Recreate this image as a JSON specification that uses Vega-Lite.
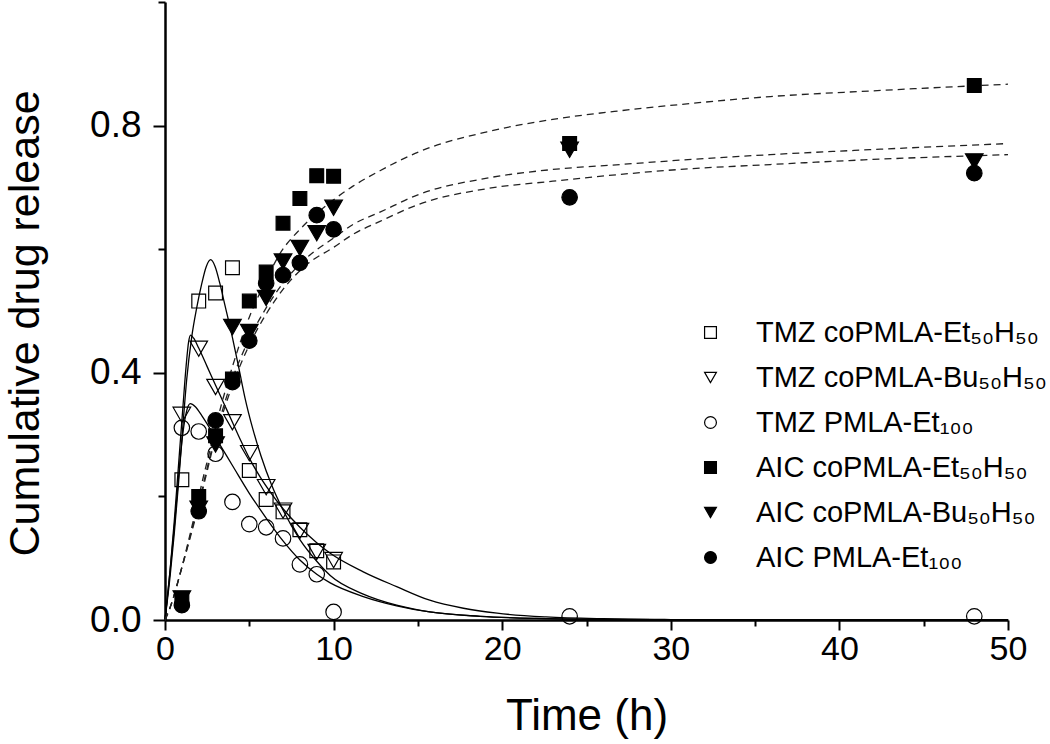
{
  "$schema": "https://vega.github.io/schema/vega-lite/v6.json",
  "width": 843,
  "height": 618,
  "autosize": {"type": "none"},
  "padding": {"left": 165, "top": 2, "right": 42, "bottom": 124},
  "background": "white",
  "config": {
    "view": {"stroke": null},
    "font": "Liberation Sans",
    "axis": {
      "labelFont": "Liberation Sans",
      "titleFont": "Liberation Sans",
      "labelColor": "black",
      "titleColor": "black",
      "domainColor": "black",
      "tickColor": "black",
      "titleFontWeight": "normal",
      "grid": false,
      "domainWidth": 2.5,
      "tickWidth": 2
    },
    "legend": {
      "labelFont": "Liberation Sans",
      "labelFontSize": 29,
      "labelColor": "black",
      "labelLimit": 600,
      "labelOffset": 31,
      "symbolSize": 140,
      "symbolStrokeColor": "black",
      "symbolStrokeWidth": 1.2,
      "rowPadding": 15
    }
  },
  "datasets": {
    "points": [
      {"t": 1, "v": 0.227, "s": "TMZ coPMLA-Et₅₀H₅₀"}, {"t": 2, "v": 0.516, "s": "TMZ coPMLA-Et₅₀H₅₀"}, {"t": 3, "v": 0.529, "s": "TMZ coPMLA-Et₅₀H₅₀"}, {"t": 4, "v": 0.570, "s": "TMZ coPMLA-Et₅₀H₅₀"}, {"t": 5, "v": 0.242, "s": "TMZ coPMLA-Et₅₀H₅₀"}, {"t": 6, "v": 0.195, "s": "TMZ coPMLA-Et₅₀H₅₀"}, {"t": 7, "v": 0.175, "s": "TMZ coPMLA-Et₅₀H₅₀"}, {"t": 8, "v": 0.146, "s": "TMZ coPMLA-Et₅₀H₅₀"}, {"t": 9, "v": 0.112, "s": "TMZ coPMLA-Et₅₀H₅₀"}, {"t": 10, "v": 0.094, "s": "TMZ coPMLA-Et₅₀H₅₀"},
      {"t": 1, "v": 0.332, "s": "TMZ coPMLA-Bu₅₀H₅₀"}, {"t": 2, "v": 0.439, "s": "TMZ coPMLA-Bu₅₀H₅₀"}, {"t": 3, "v": 0.377, "s": "TMZ coPMLA-Bu₅₀H₅₀"}, {"t": 4, "v": 0.320, "s": "TMZ coPMLA-Bu₅₀H₅₀"}, {"t": 5, "v": 0.270, "s": "TMZ coPMLA-Bu₅₀H₅₀"}, {"t": 6, "v": 0.215, "s": "TMZ coPMLA-Bu₅₀H₅₀"}, {"t": 7, "v": 0.177, "s": "TMZ coPMLA-Bu₅₀H₅₀"}, {"t": 8, "v": 0.144, "s": "TMZ coPMLA-Bu₅₀H₅₀"}, {"t": 9, "v": 0.110, "s": "TMZ coPMLA-Bu₅₀H₅₀"}, {"t": 10, "v": 0.097, "s": "TMZ coPMLA-Bu₅₀H₅₀"},
      {"t": 1, "v": 0.311, "s": "TMZ PMLA-Et₁₀₀"}, {"t": 2, "v": 0.305, "s": "TMZ PMLA-Et₁₀₀"}, {"t": 3, "v": 0.269, "s": "TMZ PMLA-Et₁₀₀"}, {"t": 4, "v": 0.191, "s": "TMZ PMLA-Et₁₀₀"}, {"t": 5, "v": 0.155, "s": "TMZ PMLA-Et₁₀₀"}, {"t": 6, "v": 0.150, "s": "TMZ PMLA-Et₁₀₀"}, {"t": 7, "v": 0.132, "s": "TMZ PMLA-Et₁₀₀"}, {"t": 8, "v": 0.090, "s": "TMZ PMLA-Et₁₀₀"}, {"t": 9, "v": 0.074, "s": "TMZ PMLA-Et₁₀₀"}, {"t": 10, "v": 0.013, "s": "TMZ PMLA-Et₁₀₀"}, {"t": 24, "v": 0.006, "s": "TMZ PMLA-Et₁₀₀"}, {"t": 48, "v": 0.006, "s": "TMZ PMLA-Et₁₀₀"},
      {"t": 1, "v": 0.033, "s": "AIC  coPMLA-Et₅₀H₅₀"}, {"t": 2, "v": 0.200, "s": "AIC  coPMLA-Et₅₀H₅₀"}, {"t": 3, "v": 0.298, "s": "AIC  coPMLA-Et₅₀H₅₀"}, {"t": 4, "v": 0.390, "s": "AIC  coPMLA-Et₅₀H₅₀"}, {"t": 5, "v": 0.516, "s": "AIC  coPMLA-Et₅₀H₅₀"}, {"t": 6, "v": 0.563, "s": "AIC  coPMLA-Et₅₀H₅₀"}, {"t": 7, "v": 0.642, "s": "AIC  coPMLA-Et₅₀H₅₀"}, {"t": 8, "v": 0.682, "s": "AIC  coPMLA-Et₅₀H₅₀"}, {"t": 9, "v": 0.719, "s": "AIC  coPMLA-Et₅₀H₅₀"}, {"t": 10, "v": 0.718, "s": "AIC  coPMLA-Et₅₀H₅₀"}, {"t": 24, "v": 0.771, "s": "AIC  coPMLA-Et₅₀H₅₀"}, {"t": 48, "v": 0.865, "s": "AIC  coPMLA-Et₅₀H₅₀"},
      {"t": 1, "v": 0.035, "s": "AIC  coPMLA-Bu₅₀H₅₀"}, {"t": 2, "v": 0.180, "s": "AIC  coPMLA-Bu₅₀H₅₀"}, {"t": 3, "v": 0.284, "s": "AIC  coPMLA-Bu₅₀H₅₀"}, {"t": 4, "v": 0.474, "s": "AIC  coPMLA-Bu₅₀H₅₀"}, {"t": 5, "v": 0.466, "s": "AIC  coPMLA-Bu₅₀H₅₀"}, {"t": 6, "v": 0.521, "s": "AIC  coPMLA-Bu₅₀H₅₀"}, {"t": 7, "v": 0.580, "s": "AIC  coPMLA-Bu₅₀H₅₀"}, {"t": 8, "v": 0.602, "s": "AIC  coPMLA-Bu₅₀H₅₀"}, {"t": 9, "v": 0.626, "s": "AIC  coPMLA-Bu₅₀H₅₀"}, {"t": 10, "v": 0.667, "s": "AIC  coPMLA-Bu₅₀H₅₀"}, {"t": 24, "v": 0.761, "s": "AIC  coPMLA-Bu₅₀H₅₀"}, {"t": 48, "v": 0.742, "s": "AIC  coPMLA-Bu₅₀H₅₀"},
      {"t": 1, "v": 0.024, "s": "AIC PMLA-Et₁₀₀"}, {"t": 2, "v": 0.176, "s": "AIC PMLA-Et₁₀₀"}, {"t": 3, "v": 0.323, "s": "AIC PMLA-Et₁₀₀"}, {"t": 4, "v": 0.385, "s": "AIC PMLA-Et₁₀₀"}, {"t": 5, "v": 0.452, "s": "AIC PMLA-Et₁₀₀"}, {"t": 6, "v": 0.545, "s": "AIC PMLA-Et₁₀₀"}, {"t": 7, "v": 0.558, "s": "AIC PMLA-Et₁₀₀"}, {"t": 8, "v": 0.578, "s": "AIC PMLA-Et₁₀₀"}, {"t": 9, "v": 0.655, "s": "AIC PMLA-Et₁₀₀"}, {"t": 10, "v": 0.632, "s": "AIC PMLA-Et₁₀₀"}, {"t": 24, "v": 0.684, "s": "AIC PMLA-Et₁₀₀"}, {"t": 48, "v": 0.723, "s": "AIC PMLA-Et₁₀₀"}
    ],
    "curves": [
      {"t": 0, "v": 0, "c": "A"}, {"t": 0.3, "v": 0.07, "c": "A"}, {"t": 0.55, "v": 0.14, "c": "A"}, {"t": 0.8, "v": 0.22, "c": "A"}, {"t": 1.05, "v": 0.31, "c": "A"}, {"t": 1.29, "v": 0.39, "c": "A"}, {"t": 1.58, "v": 0.457, "c": "A"}, {"t": 1.88, "v": 0.505, "c": "A"}, {"t": 2.17, "v": 0.543, "c": "A"}, {"t": 2.45, "v": 0.572, "c": "A"}, {"t": 2.71, "v": 0.583, "c": "A"}, {"t": 2.97, "v": 0.572, "c": "A"}, {"t": 3.25, "v": 0.545, "c": "A"}, {"t": 3.55, "v": 0.51, "c": "A"}, {"t": 4.0, "v": 0.457, "c": "A"}, {"t": 4.4, "v": 0.405, "c": "A"}, {"t": 4.74, "v": 0.36, "c": "A"}, {"t": 5.2, "v": 0.31, "c": "A"}, {"t": 5.7, "v": 0.265, "c": "A"}, {"t": 6.3, "v": 0.22, "c": "A"}, {"t": 7, "v": 0.178, "c": "A"}, {"t": 8, "v": 0.13, "c": "A"}, {"t": 9, "v": 0.095, "c": "A"}, {"t": 9.8, "v": 0.072, "c": "A"}, {"t": 11.76, "v": 0.042, "c": "A"}, {"t": 13.74, "v": 0.024, "c": "A"}, {"t": 15.7, "v": 0.013, "c": "A"}, {"t": 18.7, "v": 0.006, "c": "A"}, {"t": 22, "v": 0.0025, "c": "A"}, {"t": 26, "v": 0.001, "c": "A"}, {"t": 32, "v": 0.0002, "c": "A"}, {"t": 50, "v": 0, "c": "A"},
      {"t": 0, "v": 0, "c": "B"}, {"t": 0.3, "v": 0.08, "c": "B"}, {"t": 0.55, "v": 0.16, "c": "B"}, {"t": 0.8, "v": 0.25, "c": "B"}, {"t": 1.05, "v": 0.34, "c": "B"}, {"t": 1.25, "v": 0.41, "c": "B"}, {"t": 1.4, "v": 0.45, "c": "B"}, {"t": 1.52, "v": 0.461, "c": "B"}, {"t": 1.7, "v": 0.456, "c": "B"}, {"t": 2.0, "v": 0.44, "c": "B"}, {"t": 2.5, "v": 0.41, "c": "B"}, {"t": 3, "v": 0.38, "c": "B"}, {"t": 3.5, "v": 0.35, "c": "B"}, {"t": 4, "v": 0.32, "c": "B"}, {"t": 4.5, "v": 0.29, "c": "B"}, {"t": 5, "v": 0.262, "c": "B"}, {"t": 5.63, "v": 0.232, "c": "B"}, {"t": 6.3, "v": 0.205, "c": "B"}, {"t": 7, "v": 0.18, "c": "B"}, {"t": 8, "v": 0.15, "c": "B"}, {"t": 9, "v": 0.125, "c": "B"}, {"t": 9.8, "v": 0.108, "c": "B"}, {"t": 11.76, "v": 0.078, "c": "B"}, {"t": 13.74, "v": 0.054, "c": "B"}, {"t": 15.7, "v": 0.032, "c": "B"}, {"t": 17.7, "v": 0.019, "c": "B"}, {"t": 19.7, "v": 0.011, "c": "B"}, {"t": 22.6, "v": 0.005, "c": "B"}, {"t": 26, "v": 0.002, "c": "B"}, {"t": 30, "v": 0.0007, "c": "B"}, {"t": 36, "v": 0.0001, "c": "B"}, {"t": 50, "v": 0, "c": "B"},
      {"t": 0, "v": 0, "c": "C"}, {"t": 0.3, "v": 0.08, "c": "C"}, {"t": 0.55, "v": 0.15, "c": "C"}, {"t": 0.8, "v": 0.23, "c": "C"}, {"t": 1.05, "v": 0.30, "c": "C"}, {"t": 1.3, "v": 0.34, "c": "C"}, {"t": 1.5, "v": 0.35, "c": "C"}, {"t": 1.8, "v": 0.345, "c": "C"}, {"t": 2.2, "v": 0.33, "c": "C"}, {"t": 3, "v": 0.295, "c": "C"}, {"t": 4, "v": 0.25, "c": "C"}, {"t": 5, "v": 0.205, "c": "C"}, {"t": 6, "v": 0.165, "c": "C"}, {"t": 7, "v": 0.128, "c": "C"}, {"t": 8, "v": 0.097, "c": "C"}, {"t": 9, "v": 0.074, "c": "C"}, {"t": 9.8, "v": 0.06, "c": "C"}, {"t": 11.76, "v": 0.038, "c": "C"}, {"t": 13.74, "v": 0.023, "c": "C"}, {"t": 15.7, "v": 0.013, "c": "C"}, {"t": 18.7, "v": 0.006, "c": "C"}, {"t": 22, "v": 0.0025, "c": "C"}, {"t": 26, "v": 0.001, "c": "C"}, {"t": 32, "v": 0.0002, "c": "C"}, {"t": 50, "v": 0, "c": "C"},
      {"t": 0, "v": 0, "c": "D"}, {"t": 0.3, "v": 0.02, "c": "D"}, {"t": 0.9, "v": 0.075, "c": "D"}, {"t": 1.68, "v": 0.161, "c": "D"}, {"t": 2.27, "v": 0.231, "c": "D"}, {"t": 2.67, "v": 0.275, "c": "D"}, {"t": 3.36, "v": 0.35, "c": "D"}, {"t": 4, "v": 0.41, "c": "D"}, {"t": 5, "v": 0.49, "c": "D"}, {"t": 6, "v": 0.55, "c": "D"}, {"t": 6.8, "v": 0.592, "c": "D"}, {"t": 8, "v": 0.632, "c": "D"}, {"t": 9, "v": 0.658, "c": "D"}, {"t": 10, "v": 0.68, "c": "D"}, {"t": 11.15, "v": 0.702, "c": "D"}, {"t": 12.75, "v": 0.727, "c": "D"}, {"t": 15.1, "v": 0.758, "c": "D"}, {"t": 19.1, "v": 0.79, "c": "D"}, {"t": 23, "v": 0.81, "c": "D"}, {"t": 27, "v": 0.824, "c": "D"}, {"t": 30.5, "v": 0.834, "c": "D"}, {"t": 35.9, "v": 0.847, "c": "D"}, {"t": 41.8, "v": 0.856, "c": "D"}, {"t": 47.7, "v": 0.864, "c": "D"}, {"t": 50, "v": 0.867, "c": "D"},
      {"t": 0, "v": 0, "c": "E"}, {"t": 0.3, "v": 0.02, "c": "E"}, {"t": 1, "v": 0.085, "c": "E"}, {"t": 2, "v": 0.19, "c": "E"}, {"t": 3, "v": 0.30, "c": "E"}, {"t": 4, "v": 0.39, "c": "E"}, {"t": 5, "v": 0.455, "c": "E"}, {"t": 6, "v": 0.505, "c": "E"}, {"t": 7, "v": 0.545, "c": "E"}, {"t": 8.4, "v": 0.586, "c": "E"}, {"t": 10, "v": 0.618, "c": "E"}, {"t": 11.15, "v": 0.64, "c": "E"}, {"t": 12.75, "v": 0.66, "c": "E"}, {"t": 15.1, "v": 0.689, "c": "E"}, {"t": 19.1, "v": 0.715, "c": "E"}, {"t": 23, "v": 0.729, "c": "E"}, {"t": 27, "v": 0.737, "c": "E"}, {"t": 30.5, "v": 0.744, "c": "E"}, {"t": 35.9, "v": 0.753, "c": "E"}, {"t": 41.8, "v": 0.761, "c": "E"}, {"t": 50, "v": 0.771, "c": "E"},
      {"t": 0, "v": 0, "c": "F"}, {"t": 0.3, "v": 0.02, "c": "F"}, {"t": 1, "v": 0.085, "c": "F"}, {"t": 2, "v": 0.185, "c": "F"}, {"t": 3, "v": 0.295, "c": "F"}, {"t": 4, "v": 0.38, "c": "F"}, {"t": 5, "v": 0.445, "c": "F"}, {"t": 6, "v": 0.495, "c": "F"}, {"t": 7, "v": 0.535, "c": "F"}, {"t": 8.4, "v": 0.575, "c": "F"}, {"t": 10, "v": 0.603, "c": "F"}, {"t": 11.15, "v": 0.624, "c": "F"}, {"t": 12.75, "v": 0.645, "c": "F"}, {"t": 15.1, "v": 0.673, "c": "F"}, {"t": 19.1, "v": 0.698, "c": "F"}, {"t": 23, "v": 0.71, "c": "F"}, {"t": 27, "v": 0.721, "c": "F"}, {"t": 30.5, "v": 0.729, "c": "F"}, {"t": 35.9, "v": 0.737, "c": "F"}, {"t": 41.8, "v": 0.745, "c": "F"}, {"t": 50, "v": 0.753, "c": "F"}
    ]
  },
  "layer": [
    {
      "data": {"name": "curves"},
      "transform": [{"filter": {"field": "c", "oneOf": ["A", "B", "C"]}}],
      "mark": {"type": "line", "interpolate": "monotone", "stroke": "black", "strokeWidth": 1.3},
      "encoding": {
        "x": {"field": "t", "type": "quantitative", "scale": {"domain": [0, 50], "nice": false},
              "axis": {"orient": "bottom", "values": [5, 15, 25, 35, 45], "labels": false, "domain": false, "title": null, "tickSize": 6}},
        "y": {"field": "v", "type": "quantitative", "scale": {"domain": [0, 1], "nice": false},
              "axis": {"orient": "left", "values": [0.2, 0.6, 1.0], "labels": false, "domain": false, "title": null, "tickSize": 7}},
        "detail": {"field": "c"}
      }
    },
    {
      "data": {"name": "curves"},
      "transform": [{"filter": {"field": "c", "oneOf": ["D", "E", "F"]}}],
      "mark": {"type": "line", "interpolate": "monotone", "stroke": "#222222", "strokeWidth": 1.3, "strokeDash": [7, 5]},
      "encoding": {
        "x": {"field": "t", "type": "quantitative", "axis": null},
        "y": {"field": "v", "type": "quantitative", "axis": null},
        "detail": {"field": "c"}
      }
    },
    {
      "data": {"name": "points"},
      "transform": [{"filter": {"field": "s", "oneOf": ["TMZ coPMLA-Et₅₀H₅₀", "AIC  coPMLA-Et₅₀H₅₀"]}}],
      "mark": {"type": "point", "filled": true, "strokeWidth": 1.2, "opacity": 1, "size": 190},
      "encoding": {
        "x": {"field": "t", "type": "quantitative",
              "axis": {"orient": "bottom", "values": [0, 10, 20, 30, 40, 50], "title": "Time (h)", "titleFontSize": 44, "labelFontSize": 34, "tickSize": 10, "labelPadding": 2, "titlePadding": 28, "labelFlush": false}},
        "y": {"field": "v", "type": "quantitative",
              "axis": {"orient": "left", "values": [0, 0.4, 0.8], "format": ".1f", "title": "Cumulative drug release", "titleFontSize": 43, "labelFontSize": 37, "tickSize": 12, "labelPadding": 12, "titlePadding": 42, "titleY": 321}},
        "shape": {"field": "s", "type": "nominal",
                  "scale": {"domain": ["TMZ coPMLA-Et₅₀H₅₀", "TMZ coPMLA-Bu₅₀H₅₀", "TMZ PMLA-Et₁₀₀", "AIC  coPMLA-Et₅₀H₅₀", "AIC  coPMLA-Bu₅₀H₅₀", "AIC PMLA-Et₁₀₀"],
                            "range": ["square", "triangle-down", "circle", "square", "triangle-down", "circle"]},
                  "legend": {"orient": "none", "legendX": 531, "legendY": 316, "title": null}},
        "fill": {"field": "s", "type": "nominal",
                 "scale": {"domain": ["TMZ coPMLA-Et₅₀H₅₀", "TMZ coPMLA-Bu₅₀H₅₀", "TMZ PMLA-Et₁₀₀", "AIC  coPMLA-Et₅₀H₅₀", "AIC  coPMLA-Bu₅₀H₅₀", "AIC PMLA-Et₁₀₀"],
                           "range": ["transparent", "transparent", "transparent", "black", "black", "black"]},
                 "legend": {"orient": "none", "legendX": 531, "legendY": 316, "title": null}},
        "stroke": {"field": "s", "type": "nominal",
                   "scale": {"domain": ["TMZ coPMLA-Et₅₀H₅₀", "TMZ coPMLA-Bu₅₀H₅₀", "TMZ PMLA-Et₁₀₀", "AIC  coPMLA-Et₅₀H₅₀", "AIC  coPMLA-Bu₅₀H₅₀", "AIC PMLA-Et₁₀₀"],
                             "range": ["black", "black", "black", "black", "black", "black"]},
                   "legend": {"orient": "none", "legendX": 531, "legendY": 316, "title": null}}
      }
    },
    {
      "data": {"name": "points"},
      "transform": [{"filter": {"field": "s", "oneOf": ["TMZ coPMLA-Bu₅₀H₅₀", "AIC  coPMLA-Bu₅₀H₅₀"]}}],
      "mark": {"type": "point", "filled": true, "strokeWidth": 1.2, "opacity": 1, "size": 310},
      "encoding": {
        "x": {"field": "t", "type": "quantitative", "axis": null},
        "y": {"field": "v", "type": "quantitative", "axis": null},
        "shape": {"field": "s", "type": "nominal"},
        "fill": {"field": "s", "type": "nominal"},
        "stroke": {"field": "s", "type": "nominal"}
      }
    },
    {
      "data": {"name": "points"},
      "transform": [{"filter": {"field": "s", "oneOf": ["TMZ PMLA-Et₁₀₀", "AIC PMLA-Et₁₀₀"]}}],
      "mark": {"type": "point", "filled": true, "strokeWidth": 1.2, "opacity": 1, "size": 240},
      "encoding": {
        "x": {"field": "t", "type": "quantitative", "axis": null},
        "y": {"field": "v", "type": "quantitative", "axis": null},
        "shape": {"field": "s", "type": "nominal"},
        "fill": {"field": "s", "type": "nominal"},
        "stroke": {"field": "s", "type": "nominal"}
      }
    }
  ],
  "resolve": {"axis": {"x": "independent", "y": "independent"}}
}
